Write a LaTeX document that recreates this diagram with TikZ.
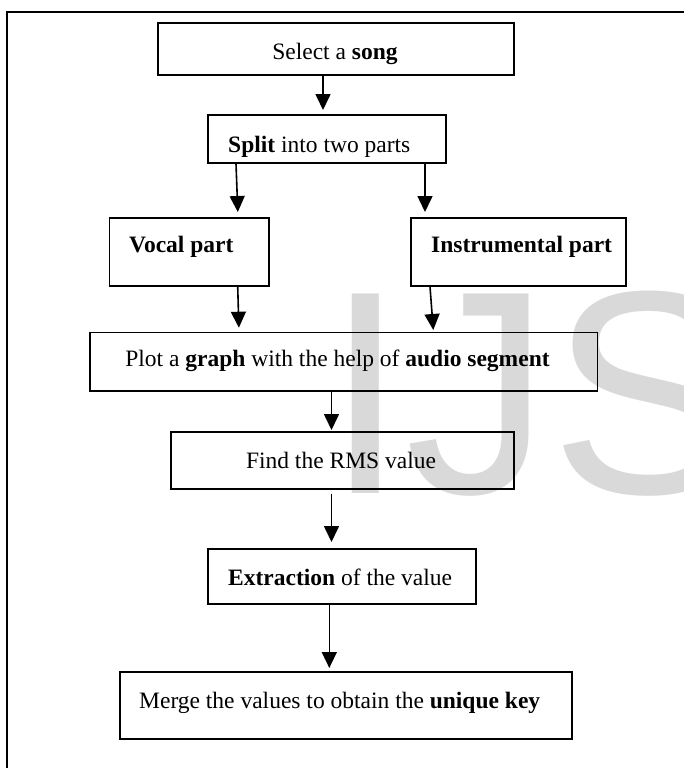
\documentclass[tikz,border=0pt]{standalone}
\usepackage{fontspec}
\setmainfont{Liberation Serif}
\newfontfamily\wmfont{Liberation Sans}
\usetikzlibrary{arrows.meta}
\definecolor{wmgray}{RGB}{217,217,217}
\begin{document}
\begin{tikzpicture}[x=1pt,y=-1pt,
  box/.style={draw=black, line width=1.6pt, inner sep=0pt, anchor=north west},
  txt/.style={inner sep=0pt, font=\fontsize{23.5}{28}\selectfont},
  arr/.style={line width=1.6pt, -{Triangle[length=16pt,width=15pt]}},
  frame/.style={draw=black, line width=2pt},
  wmark/.style={inner sep=0pt, anchor=base west, text=wmgray, font=\wmfont\fontsize{290}{290}\selectfont}
]
\clip (0,0) rectangle (684,768);
% watermark
\node[wmark] (wm) at (325,493) {IJSER};
% outer frame
\draw[frame] (6.7,12.5) rectangle (720,800);
% boxes
\node[box, minimum width=356pt, minimum height=52pt] (select) at (157,22) {};
\node[box, minimum width=238pt, minimum height=48pt] (split) at (207,114) {};
\node[box, minimum width=159.4pt, minimum height=68pt] (vocal) at (108.6,217) {};
\node[box, minimum width=215pt, minimum height=68pt] (instr) at (410,217) {};
\node[box, minimum width=507.4pt, minimum height=58.3pt] (plot) at (89.4,331.7) {};
\node[box, minimum width=343pt, minimum height=57pt] (find) at (170,431) {};
\node[box, minimum width=268pt, minimum height=55pt] (extr) at (207,548) {};
\node[box, minimum width=452pt, minimum height=67pt] (merge) at (119,671) {};
% texts
\node[txt, anchor=base] (select-t) at (335,59.5) {Select a \textbf{song}};
\node[txt, anchor=base west] (split-t) at (228,152) {\textbf{Split} into two parts};
\node[txt, anchor=base west] (vocal-t) at (129,252) {\textbf{Vocal part}};
\node[txt, anchor=base west] (instr-t) at (431,252) {\textbf{Instrumental part}};
\node[txt, anchor=base] (plot-t) at (337.5,366.7) {Plot a \textbf{graph} with the help of \textbf{audio segment}};
\node[txt, anchor=base] (find-t) at (341,468) {Find the RMS value};
\node[txt, anchor=base west] (extr-t) at (228,585) {\textbf{Extraction} of the value};
\node[txt, anchor=base west] (merge-t) at (139,708) {Merge the values to obtain the \textbf{unique key}};
% connectors
\coordinate (cx1) at (323,0);
\coordinate (cx2) at (331.5,0);
\coordinate (cx3) at (329.3,0);
\draw[arr, shorten >=4pt] (cx1 |- select.south) -- (cx1 |- split.north);
\draw[arr, shorten >=5pt] ([xshift=29pt]split.south west) -- ([xshift=129.4pt]vocal.north west);
\draw[arr, shorten >=5pt] ([xshift=218pt]split.south west) -- ([xshift=15pt]instr.north west);
\draw[arr, shorten >=4pt] ([xshift=129.1pt]vocal.south west) -- ([xshift=149.6pt]plot.north west);
\draw[arr, shorten >=1.7pt] ([xshift=20pt]instr.south west) -- ([xshift=344pt]plot.north west);
\draw[arr, shorten >=1pt] (cx2 |- plot.south) -- (cx2 |- find.north);
\draw[arr, shorten <=4pt, shorten >=6pt] (cx2 |- find.south) -- (cx2 |- extr.north);
\draw[arr, shorten >=3pt] (cx3 |- extr.south) -- (cx3 |- merge.north);
\end{tikzpicture}
\end{document}
